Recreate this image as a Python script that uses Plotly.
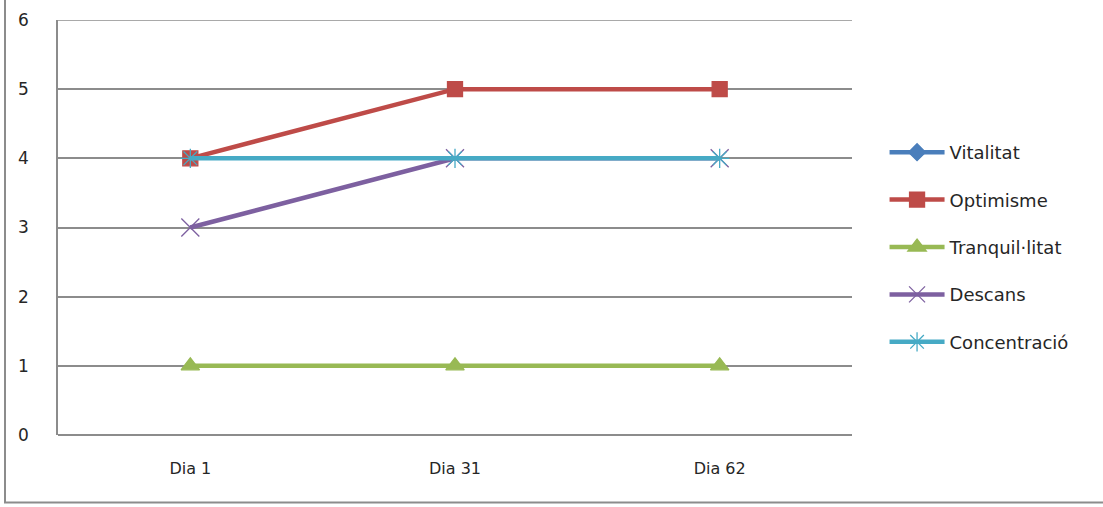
import plotly.graph_objects as go

# Category axis and series values (Vitalitat has no recorded values)
dies = ["Dia 1", "Dia 31", "Dia 62"]

vitalitat = [None, None, None]
optimisme = [4, 5, 5]
tranquillitat = [1, 1, 1]
descans = [3, 4, 4]
concentracio = [4, 4, 4]

y_ticks = [0, 1, 2, 3, 4, 5, 6]

series = [
    ("Vitalitat", vitalitat, "#4A7EBB", "diamond", 13),
    ("Optimisme", optimisme, "#BE4B48", "square", 15),
    ("Tranquil·litat", tranquillitat, "#98B954", "triangle-up", 16),
    ("Descans", descans, "#7D60A0", "x-thin-open", 18),
    ("Concentració", concentracio, "#46AAC5", "asterisk-open", 16),
]

fig = go.Figure()
for name, vals, color, symbol, size in series:
    fig.add_trace(go.Scatter(
        x=dies, y=vals, name=name, mode="lines+markers",
        legendgroup=name,
        line=dict(color=color, width=4.5),
        marker=dict(symbol=symbol, size=size, color=color,
                    line=dict(color=color, width=1.3)),
    ))

font = "DejaVu Sans, Verdana, sans-serif"
grid = "#8C8C8C"

fig.update_layout(
    width=1103, height=507,
    margin=dict(l=58, r=251, t=20, b=72, autoexpand=False),
    paper_bgcolor="white", plot_bgcolor="white",
    font=dict(family=font, size=17, color="#262626"),
    showlegend=True,
    legend=dict(
        x=1.041, y=0.453, xanchor="left", yanchor="middle",
        font=dict(family=font, size=18, color="#262626"),
        traceorder="grouped", tracegroupgap=21, itemwidth=55,
        bgcolor="rgba(0,0,0,0)",
    ),
    xaxis=dict(
        type="category", range=[-0.5, 2.5], automargin=False,
        showgrid=False, showline=False, zeroline=False,
        ticks="", ticklabelstandoff=22,
        tickfont=dict(family=font, size=16, color="#262626"),
    ),
    yaxis=dict(
        range=[0, 6], tickvals=y_ticks, automargin=False,
        showgrid=True, gridcolor=grid, gridwidth=1.5,
        showline=True, linecolor=grid, linewidth=1.5,
        zeroline=True, zerolinecolor=grid, zerolinewidth=1.5,
        ticks="", ticklabelstandoff=24,
        tickfont=dict(family=font, size=17, color="#262626"),
    ),
    shapes=[
        # gridline at the top of the value axis
        dict(type="line", xref="paper", yref="y",
             x0=0, x1=1, y0=y_ticks[-1], y1=y_ticks[-1],
             line=dict(color=grid, width=1.5), layer="below"),
        # outer chart border
        dict(type="rect", xref="paper", yref="paper",
             x0=-53 / 794, x1=1.5, y0=-67.5 / 415, y1=1.5,
             line=dict(color=grid, width=2), layer="below"),
    ],
)

fig.write_html("out.html")
